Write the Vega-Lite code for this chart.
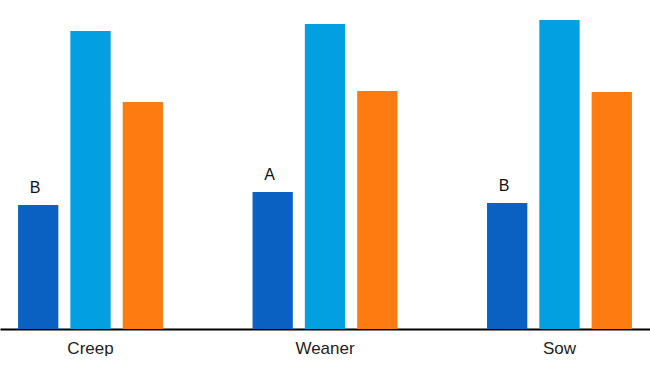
{
  "$schema": "https://vega.github.io/schema/vega-lite/v6.json",
  "width": 650,
  "height": 329,
  "padding": 0,
  "autosize": {"type": "pad"},
  "background": "white",
  "config": {"view": {"stroke": null}, "font": "Liberation Sans"},
  "data": {
    "values": [
      {"group": "Creep", "series": "Series 1", "value": 124, "label": "B"},
      {"group": "Creep", "series": "Series 2", "value": 298, "label": ""},
      {"group": "Creep", "series": "Series 3", "value": 227, "label": ""},
      {"group": "Weaner", "series": "Series 1", "value": 137, "label": "A"},
      {"group": "Weaner", "series": "Series 2", "value": 305, "label": ""},
      {"group": "Weaner", "series": "Series 3", "value": 238, "label": ""},
      {"group": "Sow", "series": "Series 1", "value": 126, "label": "B"},
      {"group": "Sow", "series": "Series 2", "value": 309, "label": ""},
      {"group": "Sow", "series": "Series 3", "value": 237, "label": ""}
    ]
  },
  "encoding": {
    "x": {
      "field": "group",
      "type": "nominal",
      "sort": ["Creep", "Weaner", "Sow"],
      "scale": {"paddingInner": 0.382, "paddingOuter": 0.077},
      "axis": {
        "title": null,
        "labelAngle": 0,
        "ticks": false,
        "domainColor": "#000000",
        "domainWidth": 2,
        "labelFontSize": 17,
        "labelColor": "#222222",
        "labelPadding": 11,
        "grid": false
      }
    },
    "xOffset": {
      "field": "series",
      "type": "nominal",
      "sort": ["Series 1", "Series 2", "Series 3"],
      "scale": {"paddingInner": 0.23, "paddingOuter": 0}
    },
    "y": {
      "field": "value",
      "type": "quantitative",
      "scale": {"domain": [0, 329], "nice": false},
      "axis": null
    }
  },
  "layer": [
    {
      "mark": {"type": "bar"},
      "encoding": {
        "color": {
          "field": "series",
          "type": "nominal",
          "scale": {
            "domain": ["Series 1", "Series 2", "Series 3"],
            "range": ["#0a61c2", "#029fe1", "#fd7b10"]
          },
          "legend": null
        }
      }
    },
    {
      "transform": [{"filter": "datum.label != ''"}],
      "mark": {"type": "text", "baseline": "alphabetic", "dy": -12, "fontSize": 16, "color": "#111111", "dx": -3},
      "encoding": {
        "text": {"field": "label"}
      }
    }
  ]
}
